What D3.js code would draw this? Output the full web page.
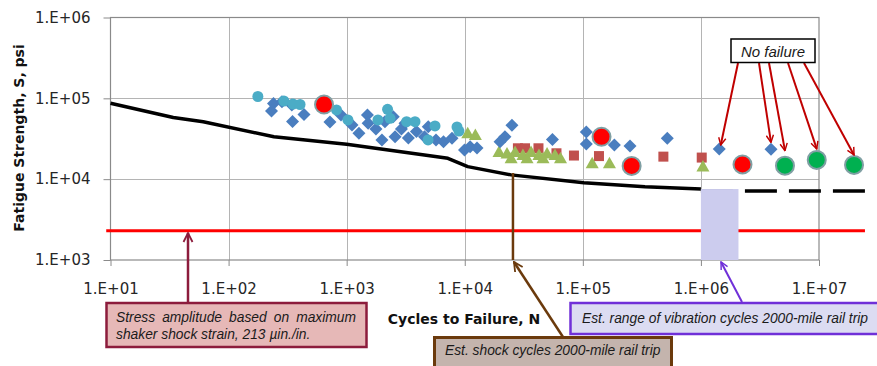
<!DOCTYPE html>
<html>
<head>
<meta charset="utf-8">
<script src="https://cdn.jsdelivr.net/npm/d3@7"></script>
<style>
	body { margin: 0; background: #fff; }
	svg { display: block; }
</style>
</head>
<body>
<svg id="chart" width="877" height="366"></svg>
<script>
// values: [cycles N, stress S (psi)]
const xTickValues = [1e1, 1e2, 1e3, 1e4, 1e5, 1e6, 1e7];
const xTickLabels = ["1.E+01", "1.E+02", "1.E+03", "1.E+04", "1.E+05", "1.E+06", "1.E+07"];
const yTickValues = [1e3, 1e4, 1e5, 1e6];
const yTickLabels = ["1.E+03", "1.E+04", "1.E+05", "1.E+06"];

const snCurve = [[10, 86900], [34, 58000], [61, 51400], [242, 33500], [1000, 27000], [7200, 18100],
	[10600, 14300], [24600, 11300], [102000, 9040], [336000, 8070], [1e6, 7550]];
const enduranceLine = [[1e6, 7150], [2.45e7, 7150]];
const shakerLine = [[9.2, 2300], [2.45e7, 2300]];
const shockCycles = 25600;
const vibrationRange = [1e6, 2.08e6];

const diamonds = [[240, 86300], [231, 69700], [283, 90800], [348, 51700], [435, 63100], [343, 82800],
	[722, 51000], [895, 62200], [1110, 46800], [1270, 36900], [1500, 62200], [1520, 49100],
	[1770, 41800], [1990, 30500], [2110, 51400], [2480, 59300], [2570, 33500], [2910, 41800],
	[3120, 49100], [3330, 32300], [3900, 38900], [4560, 33500], [4910, 44600], [5710, 30500],
	[6610, 29100], [7800, 32000], [9950, 23000], [11100, 25200], [12700, 24300], [19900, 29100],
	[21900, 33500], [25100, 46400], [55300, 31000], [107000, 38300], [107000, 27200],
	[185000, 26500], [251000, 25700], [519000, 32000], [1430000, 23600], [3920000, 23400]];
const circles = [[177, 105400], [294, 92700], [351, 85100], [403, 83900], [820, 71800], [1025, 54000],
	[1840, 54000], [2220, 73100], [2330, 56600], [3220, 51400], [3790, 51400], [5600, 45500],
	[4890, 30600], [8600, 44200], [8930, 39400]];
const triangles = [[10600, 36900], [12300, 35200], [19500, 21700], [22800, 20800], [26700, 21700],
	[31100, 19900], [36400, 21700], [42500, 19900], [49800, 20800], [58100, 19900], [64700, 18100],
	[24700, 18100], [33700, 18100], [46000, 18100], [120000, 15700], [168000, 15700], [1040000, 14300]];
const squares = [[28200, 24100], [32400, 24100], [42100, 24100], [59800, 20900], [84100, 19600],
	[137000, 19300], [481000, 19000], [1016000, 18500]];
const redDots = [[643, 83900], [144000, 33500], [259000, 14600], [2250000, 15200]];
const greenDots = [[5150000, 14700], [9570000, 17300], [19800000, 15000]];
// run-outs pointed at from the "No failure" label
const runouts = [[1430000, 23600, 4], [3920000, 23400, 7], [5150000, 14700, 15], [9570000, 17300, 11], [19800000, 15000, 10]];

const svg = d3.select("#chart");

const x = d3.scaleLog().domain([10, 1e7]).range([110.5, 819]);
const y = d3.scaleLog().domain([1e3, 1e6]).range([260, 17.5]);

// grid
const grid = svg.append("g").attr("stroke", "#b4b4b4").attr("stroke-width", 1);
grid.selectAll(".vg").data(xTickValues.slice(1, -1)).join("line")
	.attr("x1", d => Math.round(x(d)) + 0.5).attr("x2", d => Math.round(x(d)) + 0.5)
	.attr("y1", y(1e6)).attr("y2", y(1e3));
grid.selectAll(".hg").data(yTickValues.slice(1, -1)).join("line")
	.attr("x1", x(10)).attr("x2", x(1e7))
	.attr("y1", d => Math.round(y(d)) + 0.5).attr("y2", d => Math.round(y(d)) + 0.5);

svg.append("rect")
	.attr("x", x(10)).attr("y", y(1e6))
	.attr("width", x(1e7) - x(10)).attr("height", y(1e3) - y(1e6))
	.attr("fill", "none").attr("stroke", "#8a8a8a").attr("stroke-width", 1.2);

// axes
const fmtX = d => xTickLabels[xTickValues.indexOf(d)];
const fmtY = d => yTickLabels[yTickValues.indexOf(d)];

const xAxis = svg.append("g").attr("transform", `translate(0,${y(1e3)})`)
	.call(d3.axisBottom(x).tickValues(xTickValues).tickFormat(fmtX).tickSize(6).tickPadding(17));
const yAxis = svg.append("g").attr("transform", `translate(${x(10)},0)`)
	.call(d3.axisLeft(y).tickValues(yTickValues).tickFormat(fmtY).tickSize(7).tickPadding(13));

[xAxis, yAxis].forEach(a => {
	a.select(".domain").remove();
	a.selectAll(".tick line").attr("stroke", "#8a8a8a");
	a.selectAll(".tick text").attr("fill", "#262626")
		.style("font-family", "'DejaVu Sans', sans-serif").style("font-size", "15px");
});

svg.append("text")
	.attr("x", 464).attr("y", 324)
	.attr("text-anchor", "middle")
	.style("font-family", "'DejaVu Sans', sans-serif").style("font-size", "14px").style("font-weight", "bold")
	.attr("fill", "#111")
	.text("Cycles to Failure, N");

svg.append("text")
	.attr("transform", "translate(24,138) rotate(-90)")
	.attr("text-anchor", "middle")
	.style("font-family", "'DejaVu Sans', sans-serif").style("font-size", "14px").style("font-weight", "bold")
	.attr("fill", "#111")
	.text("Fatigue Strength, S, psi");

// lines
const line = d3.line().x(d => x(d[0])).y(d => y(d[1]));

svg.append("path").datum(snCurve)
	.attr("d", line).attr("fill", "none")
	.attr("stroke", "#000").attr("stroke-width", 3.5).attr("stroke-linejoin", "round");

svg.append("path").datum(enduranceLine)
	.attr("d", line).attr("fill", "none")
	.attr("stroke", "#000").attr("stroke-width", 3.5).attr("stroke-dasharray", "32,12");

svg.append("path").datum(shakerLine)
	.attr("d", line).attr("fill", "none")
	.attr("stroke", "#ff0000").attr("stroke-width", 3);

svg.append("line")
	.attr("x1", x(shockCycles)).attr("x2", x(shockCycles))
	.attr("y1", 173).attr("y2", y(1e3))
	.attr("stroke", "#6b3a0c").attr("stroke-width", 2.5);

svg.append("rect")
	.attr("x", x(vibrationRange[0])).attr("y", y(7550))
	.attr("width", x(vibrationRange[1]) - x(vibrationRange[0]))
	.attr("height", y(1e3) - y(7550))
	.attr("fill", "#ccccee");

// markers
svg.append("g").selectAll("rect").data(squares).join("rect")
	.attr("x", d => x(d[0]) - 5).attr("y", d => y(d[1]) - 5)
	.attr("width", 10).attr("height", 10)
	.attr("fill", "#c0504d");

svg.append("g").selectAll("path").data(triangles).join("path")
	.attr("transform", d => `translate(${x(d[0])},${y(d[1])})`)
	.attr("d", "M0,-6.5L6.5,5L-6.5,5Z")
	.attr("fill", "#9bbb59");

svg.append("g").selectAll("path").data(diamonds).join("path")
	.attr("transform", d => `translate(${x(d[0])},${y(d[1])})`)
	.attr("d", "M0,-6.5L6.5,0L0,6.5L-6.5,0Z")
	.attr("fill", "#4a7ebf");

svg.append("g").selectAll("circle").data(circles).join("circle")
	.attr("cx", d => x(d[0])).attr("cy", d => y(d[1])).attr("r", 5.5)
	.attr("fill", "#4bacc6");

svg.append("g").selectAll("circle").data(redDots).join("circle")
	.attr("cx", d => x(d[0])).attr("cy", d => y(d[1])).attr("r", 9)
	.attr("fill", "#ff0000").attr("stroke", "#7f9fa3").attr("stroke-width", 2);

svg.append("g").selectAll("circle").data(greenDots).join("circle")
	.attr("cx", d => x(d[0])).attr("cy", d => y(d[1])).attr("r", 9)
	.attr("fill", "#00b050").attr("stroke", "#7f9fa3").attr("stroke-width", 2);

// arrowheads
const defs = svg.append("defs");
function arrowHead(id, color) {
	defs.append("marker")
		.attr("id", id).attr("viewBox", "0 0 10 10")
		.attr("refX", 9).attr("refY", 5)
		.attr("markerWidth", 4.5).attr("markerHeight", 4.5)
		.attr("markerUnits", "strokeWidth")
		.attr("orient", "auto")
		.append("path").attr("d", "M1,1L9,5L1,9")
		.attr("fill", "none").attr("stroke", color).attr("stroke-width", 1.6);
}
arrowHead("ah-red", "#c00000");
arrowHead("ah-maroon", "#8c1c3c");
arrowHead("ah-brown", "#6b3a0c");
arrowHead("ah-purple", "#7030d8");

function arrow(x1, y1, x2, y2, color, marker, w) {
	svg.append("line")
		.attr("x1", x1).attr("y1", y1).attr("x2", x2).attr("y2", y2)
		.attr("stroke", color).attr("stroke-width", w)
		.attr("marker-end", `url(#${marker})`);
}

// call-out boxes
function box(x0, y0, w, h, fill, stroke, sw) {
	svg.append("rect")
		.attr("x", x0).attr("y", y0).attr("width", w).attr("height", h)
		.attr("fill", fill).attr("stroke", stroke).attr("stroke-width", sw);
}
function label(tx, ty, str, size, width) {
	const t = svg.append("text")
		.attr("x", tx).attr("y", ty)
		.style("font-family", "'Liberation Sans', Arial, sans-serif")
		.style("font-size", size + "px").style("font-style", "italic")
		.attr("fill", "#1a1a1a")
		.text(str);
	if (width) {
		const gaps = str.split(" ").length - 1;
		const extra = width - t.node().getComputedTextLength();
		t.style("word-spacing", (extra / gaps) + "px");
	}
	return t;
}

// No failure
const nfTails = [738, 759, 769, 788, 804];
runouts.forEach((d, i) => {
	arrow(nfTails[i], 63, x(d[0]) + (i === 0 ? 1.5 : 0), y(d[1]) - d[2], "#c00000", "ah-red", 2);
});
box(731, 39, 84, 23.5, "#fff", "#000", 1.5);
label(773, 57, "No failure", 15).attr("text-anchor", "middle");

// shaker strain
arrow(188, 302, 188, 233, "#8c1c3c", "ah-maroon", 2.5);
box(106.5, 303, 260, 44, "#e6b8b7", "#8c1c3c", 2.5);
label(116, 322, "Stress amplitude based on maximum", 13.8, 240);
label(116, 339, "shaker shock strain, 213 \u00b5in./in.", 13.8);

// shock cycles
arrow(563, 337, x(shockCycles) + 1, 262, "#6b3a0c", "ah-brown", 2.5);
box(434.5, 337.5, 237, 40, "#c4b4ad", "#6b3a0c", 3);
label(445, 355, "Est. shock cycles 2000-mile rail trip", 13.8);

// vibration cycles
arrow(742, 302, x(1.48e6), 262, "#7030d8", "ah-purple", 2);
box(570.5, 303, 320, 31, "#dcdcf2", "#7030d8", 2.5);
label(582, 323, "Est. range of vibration cycles 2000-mile rail trip", 13.8);
</script>
</body>
</html>
